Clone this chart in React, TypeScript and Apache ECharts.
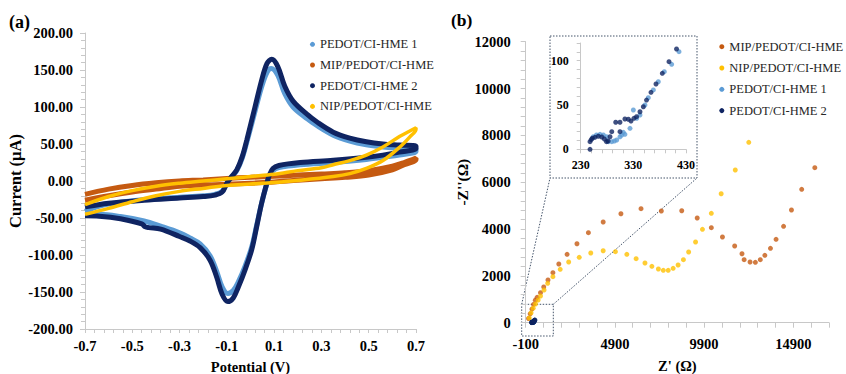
import React, { useEffect, useRef } from 'react';
import * as echarts from 'echarts';

const FONT = 'Liberation Serif, Times New Roman, serif';

const NAME_P1 = 'PEDOT/CI-HME 1';
const NAME_MIP = 'MIP/PEDOT/CI-HME';
const NAME_P2 = 'PEDOT/CI-HME 2';
const NAME_NIP = 'NIP/PEDOT/CI-HME';

const COLOR_P1 = '#5b9bd5';
const COLOR_MIP = '#c55a11';
const COLOR_P2 = '#0f2462';
const COLOR_NIP = '#ffc000';

// ---- (a) cyclic voltammograms: potential (V) / current (µA), forward then reverse scan
const p1Potential = [-0.70, -0.65, -0.60, -0.45, -0.30, -0.20, -0.15, -0.12, -0.10, -0.08, -0.058, -0.035, -0.016, 0.019, 0.047, 0.07, 0.088, 0.115, 0.145, 0.18, 0.24, 0.28, 0.35, 0.42, 0.49, 0.56, 0.63, 0.70,
  0.70, 0.63, 0.56, 0.49, 0.35, 0.21, 0.12, 0.095, 0.08, 0.069, 0.047, 0.026, 0.005, -0.023, -0.051, -0.073, -0.096, -0.12, -0.143, -0.171, -0.213, -0.256, -0.30, -0.38, -0.45, -0.55, -0.64, -0.70];
const p1Current = [-41, -35, -31, -25, -22, -20, -18, -14, -3, 5, 14, 31, 52, 94, 127, 147, 152, 143, 118, 100, 84, 75, 62, 54, 49, 46, 44, 43,
  40, 35, 32, 29, 25, 22, 18, 14, 6, -4, -30, -60, -89, -115, -136, -148, -152, -143, -122, -101, -85, -77, -70, -61, -54, -48, -45, -45];

const mipPotential = [-0.7, -0.6, -0.5, -0.4, -0.3, -0.2, -0.1, 0, 0.1, 0.2, 0.3, 0.4, 0.5, 0.6, 0.65, 0.7,
  0.7, 0.65, 0.6, 0.5, 0.4, 0.3, 0.2, 0.1, 0, -0.1, -0.2, -0.3, -0.4, -0.5, -0.6, -0.7];
const mipCurrent = [-18, -11, -6, -2.5, 0, 1.5, 3.5, 5, 6.5, 8, 9.5, 11, 14, 20, 25, 31,
  29, 22, 15, 8, 5, 3, 1, -1.5, -3, -4.5, -5.5, -7, -11, -15, -20, -26];

const p2Potential = [-0.70, -0.60, -0.45, -0.30, -0.20, -0.15, -0.12, -0.10, -0.08, -0.058, -0.035, -0.016, 0.019, 0.047, 0.07, 0.09, 0.115, 0.145, 0.18, 0.24, 0.28, 0.35, 0.42, 0.49, 0.56, 0.63, 0.70,
  0.70, 0.63, 0.56, 0.49, 0.35, 0.21, 0.12, 0.095, 0.08, 0.069, 0.047, 0.026, 0.005, -0.023, -0.051, -0.073, -0.096, -0.12, -0.143, -0.171, -0.213, -0.256, -0.30, -0.38, -0.43, -0.445, -0.46, -0.55, -0.64, -0.70];
const p2Current = [-35, -30, -26, -23, -21, -19, -15, -3, 6, 15, 33, 55, 100, 136, 159, 164.5, 155, 128, 108, 90, 80, 66, 58, 53, 50, 48.5, 47,
  44, 39, 35, 32, 28, 25, 21, 17, 8, -3, -30, -62, -93, -120, -143, -158, -163, -153, -130, -107, -90, -81, -75, -65, -63, -62, -58, -51, -47.5, -47];

const nipPotential = [-0.7, -0.6, -0.5, -0.4, -0.3, -0.2, -0.1, 0, 0.1, 0.2, 0.3, 0.35, 0.42, 0.49, 0.56, 0.63, 0.67, 0.7,
  0.7, 0.675, 0.632, 0.562, 0.49, 0.42, 0.35, 0.21, 0.1, 0, -0.1, -0.2, -0.3, -0.4, -0.5, -0.6, -0.7];
const nipCurrent = [-32, -21, -13, -7, -3, 0, 3, 6, 9, 14, 18, 22, 27.5, 35, 46, 60, 67, 72,
  70, 60, 46, 28, 17, 10, 6, 1, -2, -4, -6, -10, -14, -20, -28, -37, -45];

// ---- (b) Nyquist plots: Z' (Ω) / -Z'' (Ω)
const mipZre = [60, 150, 250, 340, 440, 541, 729, 911, 1149, 1425, 1756, 2220, 2773, 3414, 4243, 5237, 6364, 7502, 8646, 9513, 10304, 10928, 11613, 12023, 12143, 12475, 12773, 13049, 13304, 13619, 13933, 14354, 14796, 15370, 16105];
const mipZim = [180, 380, 580, 780, 960, 1085, 1281, 1524, 1823, 2135, 2506, 2921, 3373, 3843, 4300, 4654, 4868, 4770, 4782, 4471, 4057, 3659, 3275, 2946, 2690, 2592, 2579, 2690, 2878, 3177, 3561, 4116, 4812, 5696, 6619];

const nipZre = [100, 200, 320, 450, 596, 729, 928, 1132, 1425, 1834, 2309, 2900, 3547, 4243, 4928, 5569, 6088, 6585, 6972, 7337, 7613, 7889, 8165, 8442, 8740, 9033, 9420, 9807, 10304, 10856, 11647, 12403];
const nipZim = [200, 420, 620, 800, 969, 1140, 1396, 1682, 1964, 2280, 2592, 2792, 2976, 3074, 3032, 2921, 2733, 2549, 2408, 2293, 2237, 2237, 2323, 2464, 2690, 3019, 3446, 3988, 4671, 5508, 6520, 7703];

const p1Zre = [254, 260, 266.7, 273, 279, 282.4, 289, 294, 298.4, 304.6, 308, 311, 314, 323.6, 330, 336.4, 342.6, 352, 358.4, 368, 377.4, 388.8, 402.8, 416.7];
const p1Zim = [14.2, 16.1, 16.9, 16.1, 14.2, 8.6, 8.6, 9.4, 10.5, 14.2, 16.1, 19.2, 16.9, 23.7, 44.4, 35, 38.7, 50, 58.2, 67, 76.3, 87.6, 95.9, 110.2];

const p2Zre = [247.7, 247.7, 250, 252, 257, 263.5, 270, 275, 279, 282, 285.7, 289, 296.5, 304.6, 304.6, 314, 320.5, 325.5, 331, 336, 342.6, 349, 355, 363.5, 373, 385, 397.7, 412];
const p2Zim = [0, 8.6, 11, 12.5, 13.5, 14.7, 13.9, 11.6, 8.6, 9.4, 14.2, 19.9, 30.5, 19.9, 30.5, 34.2, 33.9, 31.9, 35, 36.8, 42.4, 48, 55.6, 64.3, 73.7, 85.8, 98.9, 113.2];

// axis tick labels
const cvPotentialLabels = [-0.7, -0.5, -0.3, -0.1, 0.1, 0.3, 0.5, 0.7];
const zReLabels = [-100, 4900, 9900, 14900];
const insetZReLabels = [230, 330, 430];

const zip = (a: number[], b: number[]) => a.map((v, i) => [v, b[i]]);

const AXIS_COLOR = '#c8c8c8';
const labelStyle = (size: number, margin: number) => ({
  fontFamily: FONT,
  fontWeight: 'bold' as const,
  fontSize: size,
  color: '#000',
  margin,
});
const nameStyle = { fontFamily: FONT, fontWeight: 'bold' as const, fontSize: 14.5, color: '#000' };
const axisLine = { show: true, onZero: false, lineStyle: { color: AXIS_COLOR, width: 1 } };

function steps(from: number, to: number, step: number): number[] {
  const out: number[] = [];
  const n = Math.round((to - from) / step);
  for (let i = 0; i <= n; i++) out.push(+(from + i * step).toFixed(6));
  return out;
}

export default function App() {
  const ref = useRef<HTMLDivElement>(null);
  useEffect(() => {
    if (!ref.current) return;
    const chart = echarts.init(ref.current, null, { renderer: 'svg' });
    const cvLine = (name: string, color: string, p: number[], c: number[], width: number) => ({
      name,
      type: 'line',
      xAxisIndex: 0,
      yAxisIndex: 0,
      data: zip(p, c),
      smooth: 0.35,
      showSymbol: false,
      symbol: 'circle',
      itemStyle: { color },
      lineStyle: { color, width },
    });
    const dots = (name: string, color: string, x: number[], y: number[], axis: number) => ({
      name,
      type: 'scatter',
      xAxisIndex: axis,
      yAxisIndex: axis,
      data: zip(x, y),
      symbolSize: 5,
      itemStyle: { color },
    });
    const legendText = { fontFamily: FONT, fontSize: 12.5, color: '#262626', lineHeight: 16 };
    chart.setOption({
      animation: false,
      backgroundColor: '#fff',
      grid: [
        { left: 85, top: 33, width: 331, height: 296, outerBoundsMode: 'none', containLabel: false },
        { left: 525.7, top: 41.7, width: 303.3, height: 281, outerBoundsMode: 'none', containLabel: false },
        { left: 580.7, top: 43, width: 105.3, height: 106.3, outerBoundsMode: 'none', containLabel: false },
      ],
      legend: [
        {
          orient: 'vertical', left: 310, top: 36.3, padding: 0, itemWidth: 5, itemHeight: 5, itemGap: 4.7,
          icon: 'circle', data: [NAME_P1, NAME_MIP, NAME_P2, NAME_NIP], textStyle: legendText,
        },
        {
          orient: 'vertical', left: 719.3, top: 38.7, padding: 0, itemWidth: 5, itemHeight: 5, itemGap: 5.3,
          icon: 'circle', data: [NAME_MIP, NAME_NIP, NAME_P1, NAME_P2], textStyle: legendText,
        },
      ],
      xAxis: [
        {
          gridIndex: 0, type: 'value', min: -0.7, max: 0.7,
          axisLine, splitLine: { show: false },
          axisTick: { show: true, length: 4, customValues: steps(-0.7, 0.7, 0.04), lineStyle: { color: AXIS_COLOR } },
          axisLabel: { ...labelStyle(14.5, 9), customValues: cvPotentialLabels, formatter: (v: number) => v.toFixed(1) },
          name: 'Potential (V)', nameLocation: 'middle', nameGap: 30, nameTextStyle: nameStyle,
        },
        {
          gridIndex: 1, type: 'value', min: -100, max: 16900,
          axisLine, splitLine: { show: false },
          axisTick: { show: true, length: 5, customValues: steps(-100, 16900, 1000), lineStyle: { color: AXIS_COLOR } },
          axisLabel: { ...labelStyle(14.5, 14), customValues: zReLabels, formatter: (v: number) => String(v) },
          name: "Z' (Ω)", nameLocation: 'middle', nameGap: 36, nameTextStyle: nameStyle,
        },
        {
          gridIndex: 2, type: 'value', min: 230, max: 430,
          axisLine, splitLine: { show: false },
          axisTick: { show: true, length: 4, customValues: steps(230, 430, 20), lineStyle: { color: AXIS_COLOR } },
          axisLabel: { ...labelStyle(12, 10), customValues: insetZReLabels, formatter: (v: number) => String(v) },
        },
      ],
      yAxis: [
        {
          gridIndex: 0, type: 'value', min: -200, max: 200, interval: 50,
          axisLine, splitLine: { show: false },
          axisTick: { show: true, length: 5, lineStyle: { color: AXIS_COLOR } },
          minorTick: { show: true, splitNumber: 5, length: 4, lineStyle: { color: AXIS_COLOR } },
          axisLabel: { ...labelStyle(14.5, 12), formatter: (v: number) => v.toFixed(2) },
          name: 'Current (µA)', nameLocation: 'middle', nameGap: 57, nameRotate: 90, nameTextStyle: { ...nameStyle, fontSize: 16.5 },
        },
        {
          gridIndex: 1, type: 'value', min: 0, max: 12000, interval: 2000,
          axisLine, splitLine: { show: false },
          axisTick: { show: true, length: 5, lineStyle: { color: AXIS_COLOR } },
          minorTick: { show: true, splitNumber: 5, length: 5, lineStyle: { color: AXIS_COLOR } },
          axisLabel: { ...labelStyle(14.5, 15), formatter: (v: number) => String(v) },
          name: "-Z''(Ω)", nameLocation: 'middle', nameGap: 46, nameRotate: 90, nameTextStyle: { ...nameStyle, fontSize: 15.5 },
        },
        {
          gridIndex: 2, type: 'value', min: 0, max: 120, interval: 10,
          axisLine, splitLine: { show: false },
          axisTick: { show: true, length: 4, lineStyle: { color: AXIS_COLOR } },
          axisLabel: { ...labelStyle(12, 12), formatter: (v: number) => (v % 50 === 0 ? String(v) : '') },
        },
      ],
      series: [
        cvLine(NAME_P1, COLOR_P1, p1Potential, p1Current, 5),
        cvLine(NAME_MIP, COLOR_MIP, mipPotential, mipCurrent, 5),
        cvLine(NAME_P2, COLOR_P2, p2Potential, p2Current, 5),
        cvLine(NAME_NIP, COLOR_NIP, nipPotential, nipCurrent, 3.5),
        dots(NAME_MIP, COLOR_MIP, mipZre, mipZim, 1),
        dots(NAME_NIP, COLOR_NIP, nipZre, nipZim, 1),
        dots(NAME_P1, COLOR_P1, p1Zre, p1Zim, 1),
        dots(NAME_P2, COLOR_P2, p2Zre, p2Zim, 1),
        dots(NAME_P1, COLOR_P1, p1Zre, p1Zim, 2),
        dots(NAME_P2, COLOR_P2, p2Zre, p2Zim, 2),
      ],
      graphic: [
        { type: 'text', left: 9, top: 13, style: { text: '(a)', fontFamily: FONT, fontWeight: 'bold', fontSize: 18, fill: '#000' } },
        { type: 'text', left: 451, top: 11, style: { text: '(b)', fontFamily: FONT, fontWeight: 'bold', fontSize: 17.5, fill: '#000' } },
        { type: 'rect', shape: { x: 550, y: 36, width: 147, height: 142 }, style: { fill: 'none', stroke: '#44546a', lineWidth: 1, lineDash: [1.5, 1.5] }, silent: true },
        { type: 'rect', shape: { x: 521.7, y: 304.3, width: 31.6, height: 31.7 }, style: { fill: 'none', stroke: '#44546a', lineWidth: 1, lineDash: [1.5, 1.5] }, silent: true },
        { type: 'line', shape: { x1: 521.7, y1: 304.3, x2: 550, y2: 178 }, style: { stroke: '#44546a', lineWidth: 1, lineDash: [1.5, 1.5] }, silent: true },
        { type: 'line', shape: { x1: 553.3, y1: 304.3, x2: 697, y2: 178 }, style: { stroke: '#44546a', lineWidth: 1, lineDash: [1.5, 1.5] }, silent: true },
      ],
    });
    return () => chart.dispose();
  }, []);
  return <div ref={ref} style={{ position: 'fixed', left: 0, top: 0, width: 846, height: 374 }} />;
}
